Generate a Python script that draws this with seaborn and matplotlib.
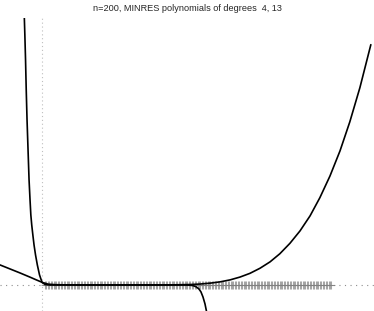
import numpy as np
import pandas as pd
import matplotlib
matplotlib.use("Agg")
import matplotlib.pyplot as plt
import seaborn as sns

sns.set_style("white")
plt.rcParams['font.family'] = ['Liberation Sans', 'DejaVu Sans']

title = "n=200, MINRES polynomials of degrees  4, 13"

# eigenvalues (n=200)
eigenvalues = [
    1, 1.5, 2, 2.5, 3, 3.5, 4, 4.5, 5, 5.5, 6, 6.5, 7, 7.5, 8, 8.5, 9, 9.5, 10, 10.5,
    11, 11.5, 12, 12.5, 13, 13.5, 14, 14.5, 15, 15.5, 16, 16.5, 17, 17.5, 18, 18.5, 19, 19.5, 20, 20.5,
    21, 21.5, 22, 22.5, 23, 23.5, 24, 24.5, 25, 25.5, 26, 26.5, 27, 27.5, 28, 28.5, 29, 29.5, 30, 30.5,
    31, 31.5, 32, 32.5, 33, 33.5, 34, 34.5, 35, 35.5, 36, 36.5, 37, 37.5, 38, 38.5, 39, 39.5, 40, 40.5,
    41, 41.5, 42, 42.5, 43, 43.5, 44, 44.5, 45, 45.5, 46, 46.5, 47, 47.5, 48, 48.5, 49, 49.5, 50, 50.5,
    51, 51.5, 52, 52.5, 53, 53.5, 54, 54.5, 55, 55.5, 56, 56.5, 57, 57.5, 58, 58.5, 59, 59.5, 60, 60.5,
    61, 61.5, 62, 62.5, 63, 63.5, 64, 64.5, 65, 65.5, 66, 66.5, 67, 67.5, 68, 68.5, 69, 69.5, 70, 70.5,
    71, 71.5, 72, 72.5, 73, 73.5, 74, 74.5, 75, 75.5, 76, 76.5, 77, 77.5, 78, 78.5, 79, 79.5, 80, 80.5,
    81, 81.5, 82, 82.5, 83, 83.5, 84, 84.5, 85, 85.5, 86, 86.5, 87, 87.5, 88, 88.5, 89, 89.5, 90, 90.5,
    91, 91.5, 92, 92.5, 93, 93.5, 94, 94.5, 95, 95.5, 96, 96.5, 97, 97.5, 98, 98.5, 99, 99.5, 100, 100.5,
]

# degree-4 MINRES polynomial
deg4_x = [-14.58, -11.11, -7.64, -4.17, -2.08, 0, 2.08, 4.5, 8.0, 13.2, 20.1, 37.5,
          44.4, 51.4, 54.9, 58.3, 61.8, 65.3, 68.75, 72.2, 75.7, 79.2, 82.6, 86.1,
          89.6, 93.1, 96.5, 100, 103.5, 106.9, 110.4, 114.2]
deg4_y = [7.5, 6.0, 4.5, 2.93, 1.95, 1.0, 0.3, 0.11, 0.04, 0.0, 0.0, 0.0,
          0.02, 0.16, 0.35, 0.67, 1.16, 1.9, 2.96, 4.35, 6.26, 8.66, 11.7, 15.6,
          20.25, 25.9, 32.7, 40.8, 50.25, 61.1, 73.9, 90.0]

# degree-13 MINRES polynomial
deg13_x = [-6.25, -6.15, -5.97, -5.73, -5.49, -5.21, -4.86, -4.51, -4.17, -3.89, -3.58,
           -3.19, -2.78, -2.26, -1.63, -0.87, 0, 1.04, 2.78, 20.1, 37.5, 49.65, 51.4,
           52.4, 53.5, 54.5, 55.2, 55.9, 56.6, 57.1, 57.6]
deg13_y = [106.9, 100.1, 93.75, 84.4, 73.1, 61.9, 50.6, 39.4, 31.9, 26.25, 22.5,
           18.75, 15.0, 11.25, 7.5, 3.75, 1.0, 0.19, 0.0, 0.0, 0.0, 0.0, -0.075,
           -0.225, -0.675, -1.5, -2.6, -4.5, -7.1, -9.75, -12.75]

fig = plt.figure(figsize=(3.74, 3.11), dpi=100)
ax = fig.add_axes([0, 0, 1, 293 / 311])

ax.axhline(0, color="0.55", linestyle=(0, (1, 4)), linewidth=0.8, zorder=1)
ax.axvline(0, color="0.75", linestyle=(0, (1, 2.5)), linewidth=0.8, zorder=1)

eig_df = pd.DataFrame({"x": eigenvalues, "y": [0.0] * len(eigenvalues)})
sns.scatterplot(data=eig_df, x="x", y="y", ax=ax, marker="+", s=26, color="0.5",
                linewidth=0.75, alpha=0.7, zorder=2, legend=False)

d4 = pd.DataFrame({"x": deg4_x, "y": deg4_y})
d13 = pd.DataFrame({"x": deg13_x, "y": deg13_y})
sns.lineplot(data=d4, x="x", y="y", ax=ax, sort=False, estimator=None, color="black",
             linewidth=1.2, zorder=3)
sns.lineplot(data=d13, x="x", y="y", ax=ax, sort=False, estimator=None, color="black",
             linewidth=1.2, zorder=3)

ax.set_xlim(-14.6, 115.3)
ax.set_ylim(-9.75, 100)
ax.set_axis_off()
ax.set_title(title, fontsize=6.6, pad=5)

fig.savefig("out.png", dpi=100)
